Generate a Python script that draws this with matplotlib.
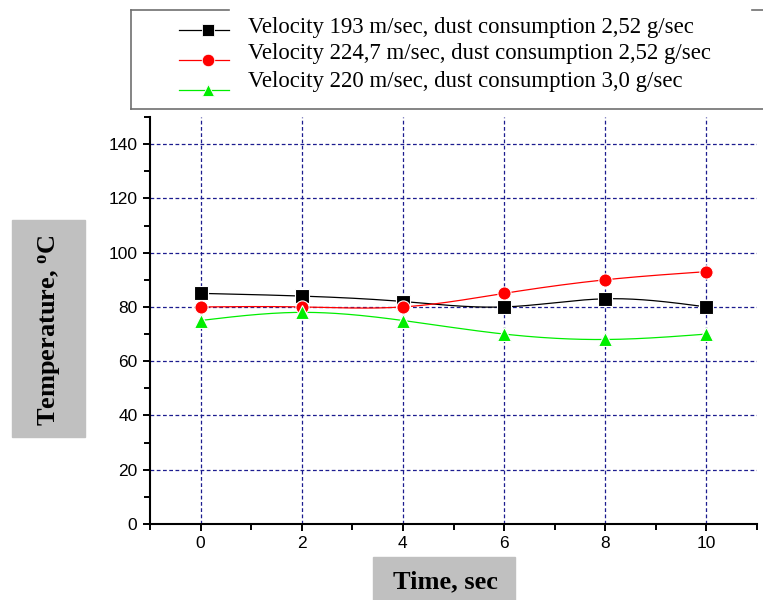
import matplotlib

matplotlib.use("Agg")
import matplotlib.pyplot as plt
import numpy as np
from matplotlib.lines import Line2D
from matplotlib.patches import Rectangle
from matplotlib.ticker import MultipleLocator

time_sec = [0, 2, 4, 6, 8, 10]
temp_v193 = [85, 84, 82, 80, 83, 80]
temp_v224 = [80, 80, 80, 85, 90, 93]
temp_v220 = [75, 78, 75, 70, 68, 70]

series_labels = [
    "Velocity 193 m/sec, dust consumption 2,52 g/sec",
    "Velocity 224,7 m/sec, dust consumption 2,52 g/sec",
    "Velocity 220 m/sec, dust consumption 3,0 g/sec",
]

W, H = 763, 600


def spline_curve(x, y, n=200):
    # natural cubic spline, only used to draw the smooth connecting line
    x = np.asarray(x, dtype=float)
    y = np.asarray(y, dtype=float)
    k = len(x)
    h = np.diff(x)
    A = np.zeros((k, k))
    b = np.zeros(k)
    A[0, 0] = A[-1, -1] = 1.0
    for i in range(1, k - 1):
        A[i, i - 1] = h[i - 1]
        A[i, i] = 2 * (h[i - 1] + h[i])
        A[i, i + 1] = h[i]
        b[i] = 6 * ((y[i + 1] - y[i]) / h[i] - (y[i] - y[i - 1]) / h[i - 1])
    m = np.linalg.solve(A, b)
    xs = np.linspace(x[0], x[-1], n)
    idx = np.clip(np.searchsorted(x, xs) - 1, 0, k - 2)
    x0, x1 = x[idx], x[idx + 1]
    hh = x1 - x0
    t0, t1 = x1 - xs, xs - x0
    ys = (m[idx] * t0**3 + m[idx + 1] * t1**3) / (6 * hh) \
        + (y[idx] / hh - m[idx] * hh / 6) * t0 \
        + (y[idx + 1] / hh - m[idx + 1] * hh / 6) * t1
    return xs, ys


figure = plt.figure(figsize=(W / 100, H / 100), dpi=100)
axis = figure.add_axes([150 / W, 1 - 524 / H, 607 / W, 407 / H])

styles = [
    (temp_v193, "#000000", "s"),
    (temp_v224, "#ff0000", "o"),
    (temp_v220, "#00ee00", "^"),
]
for values, color, marker in styles:
    xs, ys = spline_curve(time_sec, values)
    axis.plot(xs, ys, color=color, lw=0.9, zorder=3)
    axis.plot(time_sec, values, ls="none", marker=marker, color=color,
              ms=9.5, mec="white", mew=0.8, zorder=4)

axis.set_xlim(-1, 11)
axis.set_ylim(0, 150)
axis.xaxis.set_major_locator(MultipleLocator(2))
axis.xaxis.set_minor_locator(MultipleLocator(1))
axis.yaxis.set_major_locator(MultipleLocator(20))
axis.yaxis.set_minor_locator(MultipleLocator(10))
axis.set_yticks(np.arange(0, 141, 20))
axis.grid(True, which="major", color="#1c1c8f", ls=(0, (3, 2)), lw=0.9, zorder=1)
axis.set_axisbelow(True)

for side in ("top", "right"):
    axis.spines[side].set_visible(False)
for side in ("left", "bottom"):
    axis.spines[side].set_linewidth(1.5)
axis.tick_params(which="major", direction="out", length=5, width=1.4,
                 labelsize=12.5, pad=4)
axis.tick_params(which="minor", direction="out", length=4, width=1.4)
for lbl in axis.get_xticklabels() + axis.get_yticklabels():
    lbl.set_fontfamily("Liberation Sans")

serif = "Liberation Serif"

# axis titles in grey boxes
figure.patches.append(Rectangle((12 / W, 1 - 437 / H), 73 / W, 217 / H,
                                transform=figure.transFigure, color="#c0c0c0", zorder=0))
figure.text(50 / W, 1 - 330 / H, "Temperature, $\\mathregular{^o}$C", rotation=90,
            ha="center", va="center", fontsize=19, fontweight="bold", family=serif)
figure.patches.append(Rectangle((373 / W, 0), 142 / W, 43 / H,
                                transform=figure.transFigure, color="#c0c0c0", zorder=0))
figure.text(445 / W, 1 - 582 / H, "Time, sec", ha="center", va="center",
            fontsize=19, fontweight="bold", family=serif)

# legend frame
edge = "#707070"
for seg in [((131, 131), (10, 109)), ((131, 763), (109, 109)),
            ((131, 229), (10, 10)), ((752, 763), (10, 10))]:
    figure.add_artist(Line2D([v / W for v in seg[0]], [1 - v / H for v in seg[1]],
                             color=edge, lw=1.2, transform=figure.transFigure))

handle_y = [30, 60, 90]
text_y = [27, 54, 81]
for (values, color, marker), label, hy, ty in zip(styles, series_labels, handle_y, text_y):
    figure.add_artist(Line2D([179 / W, 229 / W], [1 - hy / H] * 2, color=color,
                             lw=0.9, transform=figure.transFigure))
    figure.add_artist(Line2D([208 / W], [1 - hy / H], color=color, marker=marker,
                             ms=9, mec="white", mew=0.6, transform=figure.transFigure))
    figure.text(248 / W, 1 - ty / H, label, ha="left", va="center",
                fontsize=16.4, family=serif)

figure.savefig("out.png", dpi=100)
plt.close(figure)
